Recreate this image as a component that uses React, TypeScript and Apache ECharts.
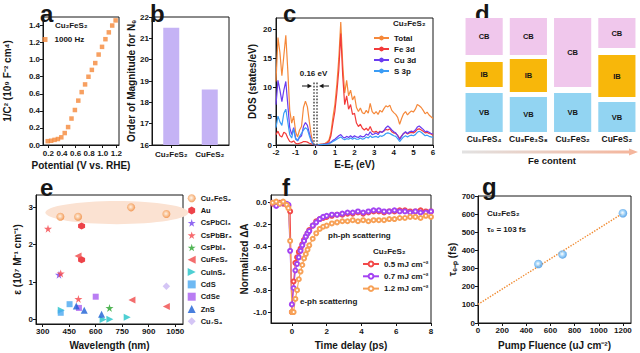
import React, { useEffect, useRef } from "react";
import * as echarts from "echarts";

const FONT = "Arial, 'Liberation Sans', Helvetica, sans-serif";
const INK = "#161616";

// ---------- panel a ----------
const potentialV = [0.19, 0.24, 0.29, 0.34, 0.39, 0.44, 0.49, 0.54, 0.59, 0.64, 0.69, 0.74, 0.79, 0.84, 0.89, 0.94, 0.99, 1.04, 1.09, 1.14, 1.19];
const invC2 = [0.045, 0.05, 0.06, 0.07, 0.09, 0.14, 0.21, 0.31, 0.41, 0.52, 0.62, 0.71, 0.8, 0.88, 0.96, 1.06, 1.15, 1.24, 1.32, 1.4, 1.46];
const aXTicks = [0.2, 0.4, 0.6, 0.8, 1.0, 1.2];
const aYTicks = [0, 0.2, 0.4, 0.6, 0.8, 1.0, 1.2, 1.4];

// ---------- panel b ----------
const bCompounds = ["Cu₂FeS₂", "CuFeS₂"];
const bOrder = [21.5, 18.6];

// ---------- panel c ----------
const energyEV = [-2.0, -1.9, -1.8, -1.7, -1.6, -1.5, -1.4, -1.3, -1.2, -1.1, -1.0, -0.9, -0.8, -0.7, -0.6, -0.5, -0.4, -0.3, -0.2, -0.1, 0.0, 0.1, 0.2, 0.3, 0.4, 0.5, 0.6, 0.7, 0.8, 0.9, 1.0, 1.1, 1.2, 1.3, 1.4, 1.5, 1.6, 1.7, 1.8, 1.9, 2.0, 2.1, 2.2, 2.3, 2.4, 2.5, 2.6, 2.7, 2.8, 2.9, 3.0, 3.1, 3.2, 3.3, 3.4, 3.5, 3.6, 3.7, 3.8, 3.9, 4.0, 4.1, 4.2, 4.3, 4.4, 4.5, 4.6, 4.7, 4.8, 4.9, 5.0, 5.1, 5.2, 5.3, 5.4, 5.5, 5.6, 5.7, 5.8, 5.9, 6.0];
const dosTotal = [11, 18.6, 16, 12, 15.5, 19, 13, 6, 3.8, 5, 2.3, 1.4, 2.6, 3.2, 6.5, 7.6, 6.6, 4.0, 1.6, 0.2, 0, 0, 0.1, 0.15, 0.2, 0.3, 0.5, 0.9, 2.2, 4.8, 7, 10.5, 15, 21.3, 14, 9, 11.2, 8.5, 9.5, 7.8, 8.5, 6.5, 5.8, 6.4, 5.6, 5.4, 6, 5.5, 7.2, 5.8, 5.4, 5.8, 5.3, 6.0, 5.7, 6.3, 6.8, 6.6, 6.9, 6.0, 5.6, 5.3, 4.8, 3.6, 4.6, 5.4, 5.8, 5.2, 5.6, 5.9, 5.7, 6.2, 7.0, 6.8, 6.5, 6.0, 5.4, 5.7, 5.2, 4.9, 4.6];
const dosFe = [1.8, 2.4, 1.6, 1.4, 2.2, 2.0, 1.2, 0.6, 0.5, 0.7, 0.3, 0.2, 0.3, 0.4, 0.6, 0.6, 0.5, 0.3, 0.2, 0.05, 0, 0, 0.05, 0.1, 0.1, 0.2, 0.3, 0.6, 1.6, 3.8, 5.8, 9, 13, 19.3, 12, 7, 8.5, 6.2, 7, 5.3, 5.5, 3.8, 3.2, 3.6, 2.9, 2.6, 2.9, 2.5, 3.2, 2.4, 2.2, 2.4, 2.1, 2.4, 2.2, 2.4, 2.7, 2.6, 2.8, 2.3, 2.1, 2.0, 1.7, 1.1, 1.6, 2.0, 2.2, 1.9, 2.1, 2.2, 2.1, 2.3, 2.7, 2.8, 2.6, 2.4, 2.1, 2.2, 2.0, 1.9, 1.7];
const dosCu = [7, 11.2, 9.5, 7.5, 9.5, 11, 7, 3, 1.8, 3, 1.2, 0.7, 1.3, 1.6, 3.2, 3.9, 3.4, 2.0, 0.8, 0.1, 0, 0, 0.05, 0.05, 0.1, 0.1, 0.2, 0.3, 0.5, 0.8, 1.0, 1.3, 1.6, 1.8, 1.4, 1.2, 1.5, 1.3, 1.6, 1.3, 1.6, 1.4, 1.3, 1.6, 1.4, 1.5, 1.9, 1.7, 2.3, 1.8, 1.9, 2.1, 1.8, 2.3, 2.2, 2.5, 3.0, 3.3, 3.0, 2.6, 2.3, 2.1, 1.6, 0.9, 1.5, 2.0, 2.3, 2.0, 2.3, 2.4, 2.3, 2.6, 3.1, 3.3, 3.0, 2.7, 2.3, 2.4, 2.2, 2.0, 1.9];
const dosS = [3, 5, 4, 3.4, 5.5, 6.2, 4, 1.8, 1.2, 2.8, 1.0, 0.8, 1.5, 2.0, 2.6, 3.0, 2.7, 1.6, 0.6, 0.1, 0, 0, 0.05, 0.05, 0.1, 0.1, 0.15, 0.25, 0.4, 0.6, 0.8, 1.0, 1.2, 1.4, 1.1, 0.9, 1.1, 1.0, 1.2, 1.0, 1.2, 1.0, 1.0, 1.2, 1.0, 1.1, 1.4, 1.2, 1.6, 1.3, 1.4, 1.5, 1.3, 1.6, 1.5, 1.7, 2.0, 2.1, 2.0, 1.8, 1.6, 1.5, 1.1, 0.6, 1.0, 1.4, 1.6, 1.4, 1.6, 1.7, 1.6, 1.8, 2.2, 2.4, 2.2, 1.9, 1.6, 1.7, 1.5, 1.4, 1.3];
const cYTicks = [0, 5, 10, 15, 20];
const gapEdgesEV = [-0.08, 0.08];
const gapLineTop = 11;

// ---------- panel d ----------
const dCompounds = ["Cu₅FeS₄", "Cu₉Fe₃S₈", "Cu₂FeS₂", "CuFeS₂"];
const vbTop = [39, 35, 39, 30];
const ibBottom = [45, 40, null, 35];
const ibTop = [70, 73, null, 77];
const cbBottom = [77, 77, 45, 84];
const cbTop = [114, 114, 114, 114];

// ---------- panel e ----------
const eCu2FeS2 = [[400, 2.75], [500, 2.75], [800, 3.0], [1000, 2.82]];
const eAu = [[520, 2.5], [520, 1.6]];
const eCsPbCl3 = [[392, 1.2]];
const eCsPbBr3 = [[330, 2.43], [402, 1.23], [502, 0.55]];
const eCsPbI3 = [[678, 0.31]];
const eCuFeS2 = [[500, 1.7], [805, 0.52], [1000, 0.35]];
const eCuInS2 = [[405, 0.25], [642, 0.0], [680, 0.01], [778, 0.06]];
const eCdS = [[402, 0.18], [452, 0.41]];
const eCdSe = [[505, 0.31], [600, 0.61]];
const eZnS = [[490, 0.36], [535, 0.25], [633, 0.14]];
const eCu7S4 = [[1000, 0.89]];
const eHighlight = [[720, 2.86, 405, 0.31]];
const eXTicks = [300, 450, 600, 750, 900, 1050];
const eYTicks = [0, 1, 2, 3];

// ---------- panel f ----------
const fTime = [-1.1, -0.9, -0.7, -0.5, -0.3, -0.2, -0.1, 0, 0.1, 0.2, 0.3, 0.4, 0.5, 0.6, 0.7, 0.8, 0.9, 1.0, 1.2, 1.4, 1.6, 1.8, 2.0, 2.3, 2.6, 2.9, 3.2, 3.5, 3.8, 4.1, 4.4, 4.7, 5.0, 5.3, 5.6, 5.9, 6.2, 6.5, 6.8, 7.1, 7.4, 7.7, 8.0];
const f05 = [-0.01, -0.02, 0.0, -0.01, -0.02, -0.03, -0.08, -1.0, -0.72, -0.55, -0.5, -0.45, -0.42, -0.38, -0.34, -0.31, -0.28, -0.25, -0.21, -0.17, -0.15, -0.14, -0.13, -0.12, -0.11, -0.11, -0.1, -0.1, -0.09, -0.1, -0.09, -0.08, -0.08, -0.09, -0.08, -0.08, -0.07, -0.07, -0.08, -0.08, -0.07, -0.08, -0.08];
const f07 = [0.0, -0.03, -0.01, 0.0, -0.01, -0.02, -0.44, -0.93, -0.78, -0.62, -0.56, -0.5, -0.44, -0.39, -0.35, -0.31, -0.28, -0.26, -0.21, -0.18, -0.15, -0.13, -0.12, -0.11, -0.11, -0.1, -0.09, -0.09, -0.08, -0.09, -0.08, -0.07, -0.07, -0.08, -0.08, -0.07, -0.08, -0.08, -0.09, -0.08, -0.09, -0.09, -0.08];
const f12 = [0.0, 0.01, -0.01, 0.01, -0.02, -0.05, -0.35, -1.0, -1.0, -0.88, -0.8, -0.7, -0.63, -0.57, -0.51, -0.47, -0.43, -0.39, -0.33, -0.28, -0.24, -0.22, -0.21, -0.19, -0.18, -0.17, -0.17, -0.16, -0.17, -0.16, -0.17, -0.16, -0.16, -0.16, -0.15, -0.15, -0.14, -0.14, -0.13, -0.13, -0.14, -0.12, -0.13];
const fXTicks = [0, 2, 4, 6, 8];
const fYTicks = [0, -0.2, -0.4, -0.6, -0.8, -1.0];

// ---------- panel g ----------
const gFluence = [500, 700, 1200];
const gTau = [325, 378, 605];
const gFitX = [0, 1200];
const gFitY = [103, 605];
const gXTicks = [0, 200, 400, 600, 800, 1000, 1200];

const STAR = "path://M50,0 L61,35 L98,35 L68,57 L79,91 L50,70 L21,91 L32,57 L2,35 L39,35 Z";
const HEX = "path://M50,0 L93,25 L93,75 L50,100 L7,75 L7,25 Z";
const TRI_L = "path://M0,50 L100,0 L100,100 Z";
const TRI_R = "path://M100,50 L0,0 L0,100 Z";

const labelBase = { color: INK, fontSize: 8, fontWeight: "bold", fontFamily: FONT };
const nameBase = { color: INK, fontSize: 10, fontWeight: "bold", fontFamily: FONT };

function axis(grid: number, extra: any = {}) {
  const { axisLabel = {}, axisTick = {}, nameTextStyle = {}, ...rest } = extra;
  return {
    gridIndex: grid,
    axisLine: { show: true, onZero: false, lineStyle: { color: INK, width: 1 } },
    axisTick: { show: true, length: 3, lineStyle: { color: INK, width: 1 }, ...axisTick },
    axisLabel: { ...labelBase, margin: 3, ...axisLabel },
    splitLine: { show: false },
    nameLocation: "middle",
    nameTextStyle: { ...nameBase, ...nameTextStyle },
    ...rest,
  };
}

function txt(text: string, x: number, y: number, size: number, align = "left", weight = "bold") {
  return {
    type: "text",
    x,
    y,
    silent: true,
    style: { text, fill: INK, font: `${weight} ${size}px ${FONT}`, align, verticalAlign: "middle" },
  };
}

const pairs = (xs: number[], ys: number[]) => xs.map((x, i) => [x, ys[i]]);
const plain = (v: number) => String(v);

function buildOption() {
  const bandColors: Record<string, string> = { CB: "#f0c7ec", IB: "#f8b70a", VB: "#92d4f2" };
  const bandData: any[] = [];
  dCompounds.forEach((_, i) => {
    bandData.push({ value: [i, 0, vbTop[i]], kind: "VB" });
    if (ibBottom[i] !== null) bandData.push({ value: [i, ibBottom[i], ibTop[i]], kind: "IB" });
    bandData.push({ value: [i, cbBottom[i], cbTop[i]], kind: "CB" });
  });

  const grids = [
    { left: 43, top: 17, width: 76, height: 128 },
    { left: 152, top: 17, width: 77, height: 128 },
    { left: 276, top: 18, width: 157, height: 127 },
    { left: 462, top: 18, width: 177, height: 114, show: false },
    { left: 36, top: 195, width: 147, height: 129 },
    { left: 271, top: 195, width: 160, height: 128 },
    { left: 478, top: 196, width: 153, height: 127 },
  ].map((g) => ({ show: true, borderColor: INK, borderWidth: 1, backgroundColor: "transparent", ...g }));

  const fmt1 = (v: number) => v.toFixed(1);

  const xAxis = [
    axis(0, { type: "value", min: 0.12, max: 1.24, name: "Potential (V vs. RHE)", nameGap: 15,
      axisLabel: { customValues: aXTicks, formatter: fmt1, margin: 4 }, axisTick: { customValues: aXTicks } }),
    axis(1, { type: "category", data: bCompounds, axisTick: { alignWithLabel: true }, axisLabel: { margin: 5, interval: 0 } }),
    axis(2, { type: "value", min: -2, max: 6, interval: 1, name: "E-E{sub|f} (eV)", nameGap: 13,
      axisLabel: { margin: 3 },
      nameTextStyle: { rich: { sub: { fontSize: 7, fontWeight: "bold", fontFamily: FONT, color: INK, padding: [6, 0, 0, 0], verticalAlign: "bottom" } } } }),
    axis(3, { type: "category", data: dCompounds, axisLine: { show: false }, axisTick: { show: false },
      axisLabel: { fontSize: 8.5, margin: 2, interval: 0 } }),
    axis(4, { type: "value", min: 262, max: 1094, name: "Wavelength (nm)", nameGap: 16,
      axisLabel: { customValues: eXTicks, formatter: plain }, axisTick: { customValues: eXTicks } }),
    axis(5, { type: "value", min: -1.2, max: 8, name: "Time delay (ps)", nameGap: 17,
      axisLabel: { customValues: fXTicks, margin: 4, formatter: plain }, axisTick: { customValues: fXTicks } }),
    axis(6, { type: "value", min: 0, max: 1267, name: "Pump Fluence (uJ cm⁻²)", nameGap: 17,
      axisLabel: { customValues: gXTicks, formatter: plain }, axisTick: { customValues: gXTicks } }),
  ];

  const yAxis = [
    axis(0, { type: "value", min: 0, max: 1.5, name: "1/C² (10⁹ F⁻² cm⁴)", nameGap: 31,
      axisLabel: { customValues: aYTicks, formatter: fmt1 }, axisTick: { customValues: aYTicks } }),
    axis(1, { type: "value", min: 16, max: 22, interval: 1, name: "Order of Magnitude for Nₑ", nameGap: 15 }),
    axis(2, { type: "value", min: 0, max: 22, name: "DOS (states/eV)", nameGap: 19,
      axisLabel: { customValues: cYTicks, margin: 4 }, axisTick: { customValues: cYTicks } }),
    { gridIndex: 3, type: "value", min: 0, max: 114, show: false },
    axis(4, { type: "value", min: -0.12, max: 3.33, name: "ε (10⁷ M⁻¹ cm⁻¹)", nameGap: 14,
      axisLabel: { customValues: eYTicks }, axisTick: { customValues: eYTicks } }),
    axis(5, { type: "value", min: -1.1, max: 0.07, name: "Normalized ΔA", nameGap: 20,
      axisLabel: { customValues: fYTicks, formatter: fmt1, margin: 4 }, axisTick: { customValues: fYTicks } }),
    axis(6, { type: "value", min: 0, max: 700, interval: 100, name: "τₑ₋ₚ (fs)", nameGap: 20, axisLabel: { formatter: plain } }),
  ];

  const sc = (name: string, data: number[][], symbol: string, color: any, size: number) => ({
    type: "scatter", name, xAxisIndex: 4, yAxisIndex: 4, data, symbol, symbolSize: size,
    itemStyle: { color }, z: 3,
  });

  const cu2Grad = {
    type: "radial", x: 0.45, y: 0.45, r: 0.6,
    colorStops: [{ offset: 0, color: "#fff4ea" }, { offset: 0.45, color: "#f9c292" }, { offset: 1, color: "#ee7c28" }],
  };
  const blueGrad = {
    type: "radial", x: 0.45, y: 0.45, r: 0.6,
    colorStops: [{ offset: 0, color: "#ffffff" }, { offset: 0.45, color: "#8ccaf8" }, { offset: 1, color: "#2784dc" }],
  };

  const line = (name: string, ys: number[], color: string) => ({
    type: "line", name, xAxisIndex: 2, yAxisIndex: 2, data: pairs(energyEV, ys), symbol: "none",
    lineStyle: { color, width: 1.2 }, itemStyle: { color },
  });

  const fLine = (name: string, ys: number[], color: string) => ({
    type: "line", name, xAxisIndex: 5, yAxisIndex: 5, data: pairs(fTime, ys), symbol: "emptyCircle", symbolSize: 4,
    lineStyle: { color, width: 1.1 }, itemStyle: { color, borderWidth: 1 }, clip: true,
  });

  const series: any[] = [
    { type: "scatter", name: "1000 Hz", xAxisIndex: 0, yAxisIndex: 0, data: pairs(potentialV, invC2), symbol: "rect", symbolSize: 4.5, itemStyle: { color: "#f5883a" } },
    { type: "bar", name: "order", xAxisIndex: 1, yAxisIndex: 1, data: bOrder, barWidth: 16, itemStyle: { color: "#c5b3f5" } },
    {
      ...line("Total", dosTotal, "#f5883a"),
      markLine: {
        silent: true, symbol: ["none", "none"], label: { show: false },
        lineStyle: { type: "dotted", color: "#555", width: 1.6 },
        data: gapEdgesEV.map((e) => [{ coord: [e, 0] }, { coord: [e, gapLineTop] }]),
      },
    },
    line("Fe 3d", dosFe, "#f23a3a"),
    line("Cu 3d", dosCu, "#6a3cf0"),
    line("S 3p", dosS, "#3a9cf5"),
    {
      type: "custom", name: "bands", xAxisIndex: 3, yAxisIndex: 3, data: bandData,
      renderItem: (params: any, api: any) => {
        const ci = api.value(0);
        const lo = api.coord([ci, api.value(1)]);
        const hi = api.coord([ci, api.value(2)]);
        const w = api.size([1, 0])[0] * 0.84;
        const kind = bandData[params.dataIndex].kind;
        return {
          type: "rect",
          shape: { x: lo[0] - w / 2, y: hi[1], width: w, height: lo[1] - hi[1] },
          style: { fill: bandColors[kind] },
          textContent: { style: { text: kind, fill: INK, font: `bold 7.5px ${FONT}` } },
          textConfig: { position: "inside" },
        };
      },
    },
    {
      type: "custom", name: "highlight", xAxisIndex: 4, yAxisIndex: 4, data: eHighlight, z: 1, silent: true,
      renderItem: (params: any, api: any) => {
        const c = api.coord([api.value(0), api.value(1)]);
        const e = api.coord([api.value(0) + api.value(2), api.value(1) + api.value(3)]);
        return { type: "ellipse", shape: { cx: c[0], cy: c[1], rx: e[0] - c[0], ry: c[1] - e[1] }, style: { fill: "#fbe2d2" } };
      },
    },
    sc("Cu₂FeS₂", eCu2FeS2, "circle", cu2Grad, 8),
    sc("Au", eAu, HEX, "#e8141c", 7),
    sc("CsPbCl₃", eCsPbCl3, STAR, "#7442ef", 8),
    sc("CsPbBr₃", eCsPbBr3, STAR, "#f5454a", 8),
    sc("CsPbI₃", eCsPbI3, STAR, "#25a22b", 8),
    sc("CuFeS₂", eCuFeS2, TRI_L, "#f04848", 7),
    sc("CuInS₂", eCuInS2, TRI_R, "#22c3c8", 7),
    sc("CdS", eCdS, "rect", "#4aa8f0", 6),
    sc("CdSe", eCdSe, "rect", "#a85cf0", 6),
    sc("ZnS", eZnS, "triangle", "#1c5fd4", 7),
    sc("Cu₇S₄", eCu7S4, "diamond", "#c9b6f2", 7.5),
    fLine("0.5 mJ cm⁻²", f05, "#f24a4a"),
    fLine("0.7 mJ cm⁻²", f07, "#a443f2"),
    fLine("1.2 mJ cm⁻²", f12, "#f7a157"),
    { type: "line", name: "fit", xAxisIndex: 6, yAxisIndex: 6, data: pairs(gFitX, gFitY), symbol: "none",
      lineStyle: { type: "dotted", color: "#f08a30", width: 1.4 }, z: 2 },
    { type: "scatter", name: "tau", xAxisIndex: 6, yAxisIndex: 6, data: pairs(gFluence, gTau), symbol: "circle", symbolSize: 8.5,
      itemStyle: { color: blueGrad }, z: 3 },
  ];

  const legTxt = (size: number) => ({ color: INK, fontSize: size, fontWeight: "bold", fontFamily: FONT });
  const legend = [
    { data: ["1000 Hz"], left: 42.5, top: 35.5, itemWidth: 5, itemHeight: 5, padding: 0, selectedMode: false,
      textStyle: { ...legTxt(8), padding: [0, 0, 0, 2] } },
    { data: ["Total", "Fe 3d", "Cu 3d", "S 3p"], orient: "vertical", left: 373, top: 34, itemWidth: 15, itemHeight: 6,
      itemGap: 3, padding: 0, selectedMode: false, textStyle: legTxt(8) },
    { data: ["Cu₂FeS₂", "Au", "CsPbCl₃", "CsPbBr₃", "CsPbI₃", "CuFeS₂", "CuInS₂", "CdS", "CdSe", "ZnS", "Cu₇S₄"],
      orient: "vertical", left: 187.7, top: 194.3, itemWidth: 8, itemHeight: 8, itemGap: 4.3, padding: 0, selectedMode: false,
      textStyle: legTxt(7.5) },
    { data: ["0.5 mJ cm⁻²", "0.7 mJ cm⁻²", "1.2 mJ cm⁻²"], orient: "vertical", left: 362, top: 260, itemWidth: 16, itemHeight: 6,
      itemGap: 4.3, padding: 0, selectedMode: false, textStyle: legTxt(8) },
  ];

  const graphic: any[] = [
    txt("a", 40, 13.6, 24), txt("b", 150, 13.6, 24), txt("c", 283, 13.6, 24), txt("d", 475, 13.6, 24),
    txt("e", 40, 187, 24), txt("f", 282, 187, 24), txt("g", 482, 186, 24),
    txt("Cu₂FeS₂", 55, 25, 8),
    txt("Cu₂FeS₂", 393, 23, 8),
    txt("0.16 eV", 313.5, 73, 8, "center"),
    { type: "line", shape: { x1: 302, y1: 86, x2: 310, y2: 86 }, style: { stroke: INK, lineWidth: 1 }, silent: true },
    { type: "polygon", shape: { points: [[312, 86], [307.5, 83.8], [307.5, 88.2]] }, style: { fill: INK }, silent: true },
    { type: "line", shape: { x1: 321, y1: 86, x2: 329, y2: 86 }, style: { stroke: INK, lineWidth: 1 }, silent: true },
    { type: "polygon", shape: { points: [[319, 86], [323.5, 83.8], [323.5, 88.2]] }, style: { fill: INK }, silent: true },
    {
      type: "polygon", silent: true,
      shape: { points: [[462, 150.6], [629, 150.6], [629, 148.6], [638, 152], [629, 155.4], [629, 153.4], [462, 153.4]] },
      style: { fill: new echarts.graphic.LinearGradient(0, 0, 1, 0, [{ offset: 0, color: "#e2e2e2" }, { offset: 1, color: "#f5b49a" }]) },
    },
    txt("Fe content", 552, 160, 9.5, "center", "bold"),
    txt("ph-ph scattering", 328, 235, 8),
    txt("e-ph scattering", 300, 301, 8),
    txt("Cu₂FeS₂", 373, 251, 8),
    txt("Cu₂FeS₂", 487, 213, 8),
    txt("τ₀ = 103 fs", 487, 229, 8),
  ];

  return {
    animation: false,
    backgroundColor: "#ffffff",
    textStyle: { fontFamily: FONT },
    grid: grids,
    xAxis,
    yAxis,
    legend,
    series,
    graphic,
  };
}

export default function App() {
  const ref = useRef<HTMLDivElement>(null);
  useEffect(() => {
    if (!ref.current) return;
    const chart = echarts.init(ref.current, null, { renderer: "svg" });
    chart.setOption(buildOption() as any);
    return () => chart.dispose();
  }, []);
  return <div ref={ref} style={{ position: "absolute", left: 0, top: 0, width: 640, height: 353, background: "#fff" }} />;
}
